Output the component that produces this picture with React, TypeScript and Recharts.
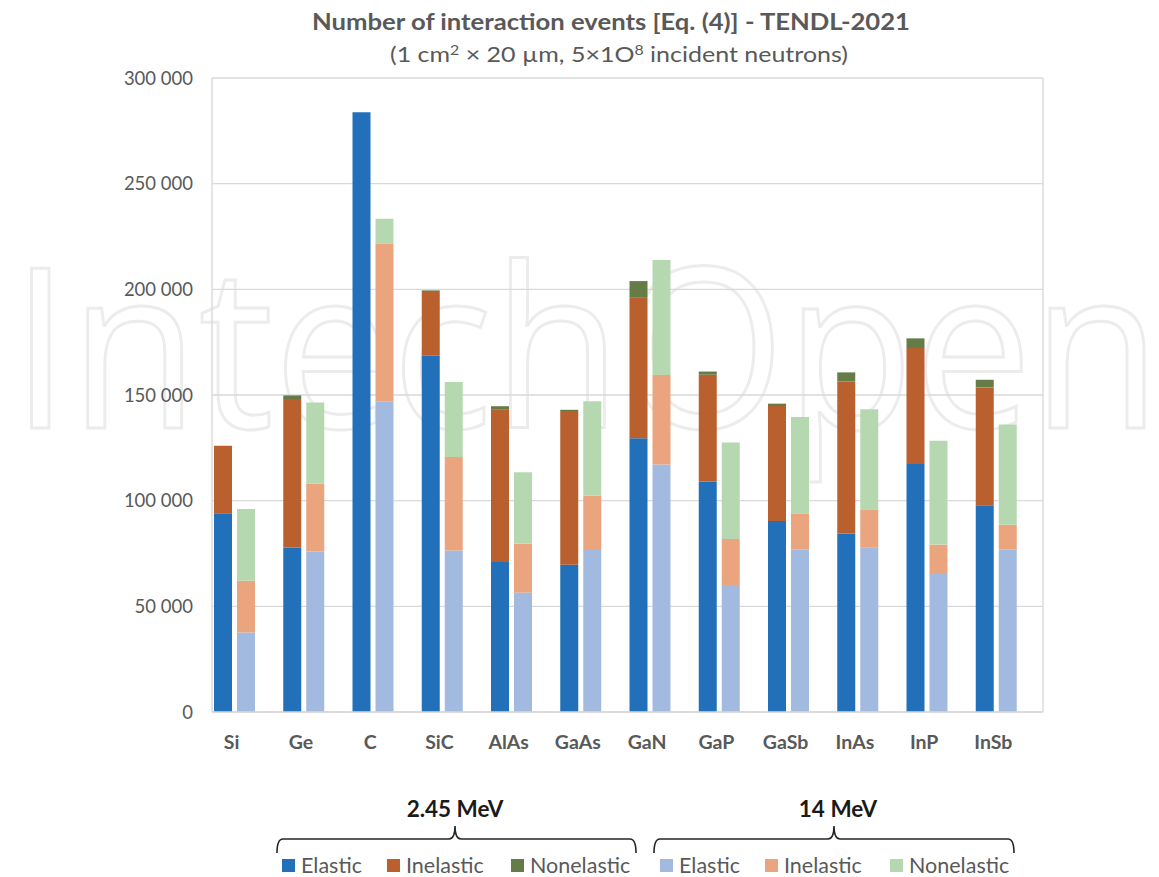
import { BarChart, Bar, XAxis, YAxis, CartesianGrid } from 'recharts';

const categories = ['Si', 'Ge', 'C', 'SiC', 'AlAs', 'GaAs', 'GaN', 'GaP', 'GaSb', 'InAs', 'InP', 'InSb'];

// 2.45 MeV
const elastic245 = [94000, 77800, 283800, 168600, 71000, 69700, 129500, 109100, 90400, 84500, 117300, 97800];
const inelastic245 = [32000, 70300, 0, 30600, 72200, 72700, 66500, 50500, 54400, 71900, 54900, 55800];
const nonelastic245 = [0, 1700, 0, 300, 1500, 600, 7900, 1500, 1100, 4300, 4600, 3600];

// 14 MeV
const elastic14 = [37600, 75900, 147100, 76400, 56500, 76700, 117100, 60100, 76800, 77700, 65300, 76800];
const inelastic14 = [24500, 32100, 74400, 44300, 23200, 25800, 42400, 21800, 17200, 18200, 13900, 11800];
const nonelastic14 = [33900, 38400, 11900, 35400, 33800, 44600, 54400, 45600, 45600, 47300, 49200, 47500];

const yTicks = [0, 50000, 100000, 150000, 200000, 250000, 300000];

const C = {
  el245: '#2270b9',
  in245: '#ba5f2e',
  non245: '#657c46',
  el14: '#a2badf',
  in14: '#eaa57f',
  non14: '#b6d8b0',
};

const data = categories.map((name, i) => ({
  name,
  el245: elastic245[i],
  in245: inelastic245[i],
  non245: nonelastic245[i],
  el14: elastic14[i],
  in14: inelastic14[i],
  non14: nonelastic14[i],
  pad: 0,
}));

const FONT = 'Lato, "Open Sans", sans-serif';
const GREY = '#595959';

const fmt = (v: number) => String(v).replace(/\B(?=(\d{3})+(?!\d))/g, ' ');

function CatTick({ x, y, payload }: any) {
  return (
    <text x={x - 15} y={y + 29} textAnchor="middle" fill={GREY} fontSize={19.5} fontWeight={700} fontFamily={FONT}>
      {payload.value}
    </text>
  );
}

function LegendItem({ x, color, label }: { x: number; color: string; label: string }) {
  return (
    <g>
      <rect x={x} y={859} width={13} height={13} fill={color} />
      <text x={x + 19} y={873} fill={GREY} fontSize={21.5} fontFamily={FONT}>
        {label}
      </text>
    </g>
  );
}

function Brace({ x1, x2, tip }: { x1: number; x2: number; tip: number }) {
  const d = `M${x1} 853 Q${x1} 839 ${x1 + 6} 839 L${tip - 6} 839 Q${tip} 839 ${tip} 826 Q${tip} 839 ${tip + 6} 839 L${x2 - 6} 839 Q${x2} 839 ${x2} 853`;
  return <path d={d} fill="none" stroke="#262626" strokeWidth={1.6} />;
}

export default function App() {
  return (
    <div style={{ position: 'absolute', left: 0, top: 0, width: 1159, height: 877, background: '#fff' }}>
      <svg width={1159} height={877} style={{ position: 'absolute', left: 0, top: 0 }}>
        <text
          x={11}
          y={428}
          fontSize={224}
          fontFamily='"Open Sans", sans-serif'
          fill="none"
          stroke="#ececec"
          strokeWidth={3}
          textLength={1150}
          lengthAdjust="spacingAndGlyphs"
        >
          IntechOpen
        </text>
      </svg>

      <div style={{ position: 'absolute', left: 0, top: 0 }}>
        <BarChart
          width={1159}
          height={877}
          data={data}
          margin={{ top: 78, right: 116, bottom: 125, left: 0 }}
          barCategoryGap={2}
          barGap={5}
        >
          <CartesianGrid stroke="#d9d9d9" strokeWidth={1.4} verticalPoints={[212, 1043]} />
          <XAxis
            dataKey="name"
            height={40}
            interval={0}
            axisLine={{ stroke: '#d9d9d9', strokeWidth: 1.4 }}
            tickLine={false}
            tick={<CatTick />}
          />
          <YAxis
            width={212}
            domain={[0, 300000]}
            ticks={yTicks}
            axisLine={false}
            tickLine={false}
            tickMargin={13}
            tickFormatter={fmt}
            tick={{ fill: GREY, fontSize: 18.5, fontFamily: FONT }}
          />
          <Bar dataKey="el245" stackId="a" fill={C.el245} isAnimationActive={false} />
          <Bar dataKey="in245" stackId="a" fill={C.in245} isAnimationActive={false} />
          <Bar dataKey="non245" stackId="a" fill={C.non245} isAnimationActive={false} />
          <Bar dataKey="el14" stackId="b" fill={C.el14} isAnimationActive={false} />
          <Bar dataKey="in14" stackId="b" fill={C.in14} isAnimationActive={false} />
          <Bar dataKey="non14" stackId="b" fill={C.non14} isAnimationActive={false} />
          <Bar dataKey="pad" stackId="c" fill="transparent" isAnimationActive={false} />
        </BarChart>
      </div>

      <svg width={1159} height={877} style={{ position: 'absolute', left: 0, top: 0, pointerEvents: 'none' }}>
        <text
          x={312}
          y={30}
          fill={GREY}
          fontSize={22}
          fontWeight={700}
          fontFamily={FONT}
          textLength={598}
          lengthAdjust="spacingAndGlyphs"
        >
          Number of interaction events [Eq. (4)] - TENDL-2021
        </text>
        <text
          x={390}
          y={62}
          fill={GREY}
          fontSize={22}
          fontFamily={FONT}
          textLength={458}
          lengthAdjust="spacingAndGlyphs"
        >
          (1 cm
          <tspan dy={-7} fontSize={14}>2</tspan>
          <tspan dy={7}> × 20 µm, 5×1O</tspan>
          <tspan dy={-7} fontSize={14}>8</tspan>
          <tspan dy={7}> incident neutrons)</tspan>
        </text>

        <text x={455} y={817} textAnchor="middle" fill="#1a1a1a" fontSize={22.5} fontWeight={700} fontFamily={FONT}>
          2.45 MeV
        </text>
        <text x={838} y={817} textAnchor="middle" fill="#1a1a1a" fontSize={22.5} fontWeight={700} fontFamily={FONT}>
          14 MeV
        </text>
        <Brace x1={277} x2={636} tip={455} />
        <Brace x1={654} x2={1014} tip={834} />

        <LegendItem x={282} color={C.el245} label="Elastic" />
        <LegendItem x={387} color={C.in245} label="Inelastic" />
        <LegendItem x={511} color={C.non245} label="Nonelastic" />
        <LegendItem x={660} color={C.el14} label="Elastic" />
        <LegendItem x={765} color={C.in14} label="Inelastic" />
        <LegendItem x={890} color={C.non14} label="Nonelastic" />
      </svg>
    </div>
  );
}
